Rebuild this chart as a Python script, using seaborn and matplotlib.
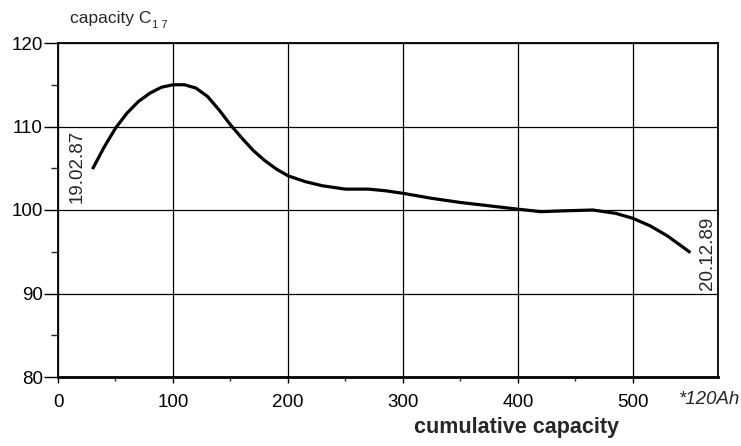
import matplotlib
matplotlib.use("Agg")
import matplotlib.pyplot as plt
import seaborn as sns
import pandas as pd

# Data
cum_capacity = [30, 40, 50, 60, 70, 80, 90, 100, 110, 120, 130, 140, 150, 160, 170,
                180, 190, 200, 215, 230, 250, 270, 285, 300, 325, 350, 375, 400,
                420, 440, 465, 485, 500, 515, 530, 550]
capacity_c17 = [104.9, 107.5, 109.8, 111.6, 113.0, 114.0, 114.7, 115.0, 115.0, 114.6,
                113.6, 112.0, 110.2, 108.6, 107.1, 105.9, 104.9, 104.1, 103.4, 102.9,
                102.5, 102.5, 102.3, 102.0, 101.4, 100.9, 100.5, 100.1, 99.8, 99.9,
                100.0, 99.6, 99.0, 98.1, 96.9, 94.9]
x_ticks = [0, 100, 200, 300, 400, 500]
y_ticks = [80, 90, 100, 110, 120]
start_label = "19.02.87"
end_label = "20.12.89"

df = pd.DataFrame({"x": cum_capacity, "y": capacity_c17})

sns.set_style("white")
plt.rcParams["font.family"] = ["Liberation Sans", "DejaVu Sans"]

fig = plt.figure(figsize=(7.41, 4.46), dpi=100)
ax = fig.add_axes([58 / 741, 1 - 377 / 446, (718 - 58) / 741, (377 - 43) / 446])

sns.lineplot(data=df, x="x", y="y", ax=ax, color="black", linewidth=2.3,
             solid_capstyle="butt")

ax.set_xlim(0, 574)
ax.set_ylim(80, 120)
ax.set_xticks(x_ticks)
ax.set_yticks(y_ticks)
ax.set_xticks([50, 150, 250, 350, 450], minor=True)
ax.set_yticks([85, 95, 105, 115], minor=True)
ax.grid(True, which="major", color="black", linewidth=0.9)
for s in ax.spines.values():
    s.set_color("black")
    s.set_linewidth(1.3)
    s.set_visible(True)
ax.spines["bottom"].set_linewidth(2.0)
ax.tick_params(axis="y", which="major", length=10, width=1, direction="out",
               labelsize=13.5, pad=1, left=True, colors="black")
ax.tick_params(axis="y", which="minor", length=5, width=1, direction="out", left=True)
ax.tick_params(axis="x", which="major", length=4, width=1, direction="out",
               labelsize=13.5, pad=8, bottom=True, colors="black")
ax.tick_params(axis="x", which="minor", length=3, width=1, direction="out", bottom=True)
ax.set_xlabel("")
ax.set_ylabel("")

ax.text(17, 105.2, start_label, rotation=90, ha="center", va="center", fontsize=13.5)
ax.text(565, 94.8, end_label, rotation=90, ha="center", va="center", fontsize=13.5)

fig.text(70 / 741, 1 - 18 / 446, "capacity C", ha="left", va="center", fontsize=12.5)
fig.text(152 / 741, 1 - 25 / 446, "1 7", ha="left", va="center", fontsize=8)
fig.text(740 / 741, 1 - 400 / 446, "*120Ah", ha="right", va="center", fontsize=13.5,
         style="italic")
fig.text(517 / 741, 1 - 433 / 446, "cumulative capacity", ha="center", va="baseline",
         fontsize=15.5, fontweight="bold")

fig.savefig("out.png", dpi=100)
